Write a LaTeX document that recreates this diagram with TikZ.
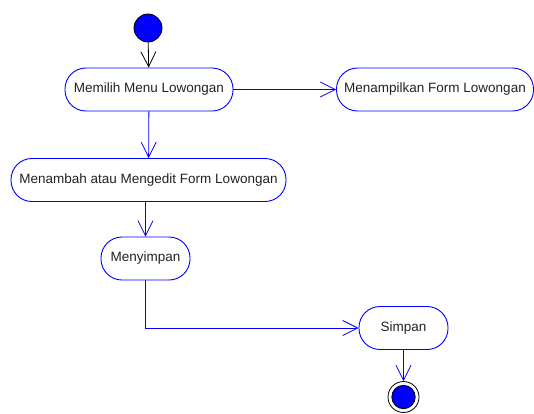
\documentclass[tikz,border=0pt]{standalone}
\usepackage{fontspec}
\setmainfont{Liberation Sans}
\usetikzlibrary{arrows.meta}
\definecolor{umlblue}{RGB}{0, 0, 255}
\definecolor{textgray}{RGB}{34, 34, 34}

\tikzset{
  activity/.style={draw=umlblue, line width=0.9pt, rounded corners=21pt, fill=white, minimum height=43pt,
    inner sep=0pt, text=textgray, font=\fontsize{13.5}{15}\selectfont},
  flow/.style={draw=umlblue, line width=0.8pt, -{Straight Barb[length=15pt,width=15pt]}},
}

\begin{document}
\begin{tikzpicture}[x=1pt, y=-1pt]
  \useasboundingbox (0,0) rectangle (534,413);
  % start and end
  \node[circle, fill=umlblue, draw=black, line width=0.8pt, minimum size=28pt, inner sep=0pt] (start) at (148,28) {};
  \node[circle, draw=black, line width=0.8pt, minimum size=31pt, inner sep=0pt] (finish) at (403.5,397) {};
  \fill[umlblue, draw=black, line width=0.8pt] (finish.center) circle (11.7);
  % activities
  \node[activity, minimum width=168pt] (memilih) at (149,89.5) {Memilih Menu Lowongan};
  \node[activity, minimum width=197pt] (menampilkan) at (435,89.5) {Menampilkan Form Lowongan};
  \node[activity, minimum width=275pt] (menambah) at (148.5,180) {Menambah atau Mengedit Form Lowongan};
  \node[activity, minimum width=89pt] (menyimpan) at (145.5,258.5) {Menyimpan};
  \node[activity, minimum width=89pt] (simpan) at (403.5,328) {Simpan};
  % flows
  \draw[flow, draw=black] (start) -- (memilih);
  \draw[flow] (memilih) -- (menampilkan);
  \draw[flow] (memilih) -- (menambah);
  \draw[flow] (menyimpan.north |- menambah.south) -- (menyimpan);
  \draw[flow] (menyimpan) |- (simpan);
  \draw[flow] (simpan) -- (finish);
\end{tikzpicture}
\end{document}
